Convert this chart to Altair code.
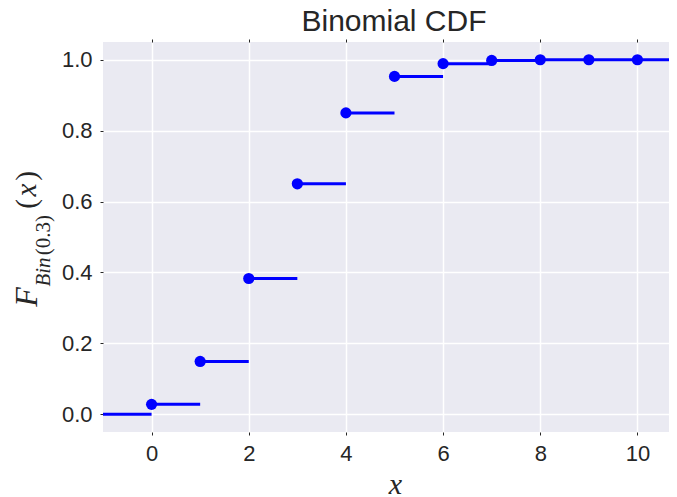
import altair as alt
import pandas as pd

# Values (Binomial CDF, n=10, p=0.3)
k_values = [0, 1, 2, 3, 4, 5, 6, 7, 8, 9, 10]
cdf_values = [0.028, 0.149, 0.383, 0.650, 0.850, 0.953, 0.989, 0.998, 1.000, 1.000, 1.000]
x_ticks = [0, 2, 4, 6, 8, 10]
y_ticks = [0.0, 0.2, 0.4, 0.6, 0.8, 1.0]

# step segments: [-1,0) at 0, then [k, k+1) at F(k)
seg_start = [-1] + k_values
seg_end = [0] + [k + 1 for k in k_values]
seg_level = [0.0] + cdf_values

steps_df = pd.DataFrame({"x0": seg_start, "x1": seg_end, "y": seg_level})
pts_df = pd.DataFrame({"k": k_values, "F": cdf_values})

BLUE = "#0000FF"
TXT = "#262626"
xscale = alt.Scale(domain=[-1, 10.65], nice=False, zero=False)
yscale = alt.Scale(domain=[-0.05, 1.05], nice=False, zero=False)

steps = alt.Chart(steps_df).mark_rule(color=BLUE, strokeWidth=3, clip=True).encode(
    x=alt.X("x0:Q", scale=xscale,
            axis=alt.Axis(values=x_ticks, format="d", title="x", orient="bottom",
                          titleFont="Liberation Serif", titleFontStyle="italic",
                          titleFontSize=30, titleFontWeight="normal", titleColor=TXT,
                          titleX=292, titleY=61, titleAlign="center",
                          titleBaseline="alphabetic")),
    x2="x1:Q",
    y=alt.Y("y:Q", scale=yscale,
            axis=alt.Axis(values=y_ticks, format=".1f", title=None)),
)

points = alt.Chart(pts_df).mark_circle(color=BLUE, opacity=1, size=125, clip=True).encode(
    x=alt.X("k:Q", scale=xscale,
            axis=alt.Axis(values=x_ticks, orient="top", labels=False, grid=False,
                          title=None, domain=False)),
    y=alt.Y("F:Q", scale=yscale),
)

one = pd.DataFrame({"a": [0]})

def piece(txt, px, py, size, style):
    return alt.Chart(one).mark_text(
        text=txt, angle=270, font="Liberation Serif", fontSize=size,
        fontStyle=style, color=TXT, align="center", baseline="middle"
    ).encode(x=alt.value(px), y=alt.value(py))

ylabel = [
    piece("F", -76, 255, 32, "italic"),
    piece("Bin", -59, 230, 21, "italic"),
    piece("(0.3)", -59, 193, 21, "normal"),
    piece("(", -76, 162, 29, "normal"),
    piece("x", -76, 148, 29, "italic"),
    piece(")", -76, 134, 29, "normal"),
]

chart = alt.layer(steps, points, *ylabel).resolve_axis(x="independent").properties(
    width=566,
    height=390,
    padding={"left": 95, "top": 34, "right": 0, "bottom": 65},
    autosize=alt.AutoSizeParams(type="none"),
    title=alt.TitleParams("Binomial CDF", fontSize=30, font="Liberation Sans",
                          color=TXT, fontWeight="normal", anchor="middle",
                          offset=2, dx=8),
).configure_view(
    fill="#EAEAF2", strokeWidth=0
).configure_axis(
    domain=False, grid=True, gridColor="white", gridWidth=1.5,
    ticks=True, tickSize=3, tickColor=TXT, tickWidth=1,
    labelFont="Liberation Sans", labelFontSize=22, labelColor=TXT,
    labelPadding=8,
)

chart.save("out.html", embed_options={"renderer": "svg", "actions": False})
